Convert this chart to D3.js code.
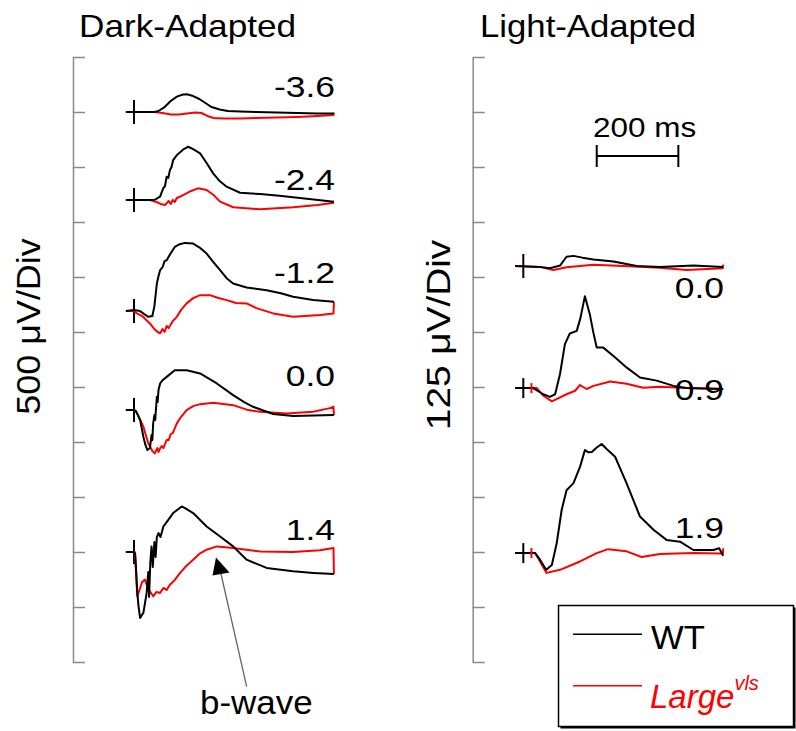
<!DOCTYPE html>
<html><head><meta charset="utf-8">
<script src="https://cdn.jsdelivr.net/npm/d3@7"></script>
<style>body{margin:0;background:#fff}svg{display:block}text{font-family:"Liberation Sans",Arial,Helvetica,sans-serif}</style>
</head><body>
<script>
// ---- data: [time ms, amplitude µV] ----
const daIntensities = ["-3.6", "-2.4", "-1.2", "0.0", "1.4"];
const laIntensities = ["0.0", "0.9", "1.9"];
const seriesNames = ["WT", "Large"];

const daWT1 = [[-20,0],[50,0],[60,9],[75,45],[90,100],[105,140],[120,159],[130,161],[145,145],[160,118],[175,82],[190,45],[210,23],[230,9],[260,5],[300,0],[350,-5],[400,-9],[450,-14],[490,-14]];
const daLV1 = [[-20,0],[50,0],[70,-9],[90,-23],[110,-23],[130,-14],[150,-5],[165,-9],[180,-36],[195,-54],[220,-59],[260,-59],[300,-54],[350,-50],[400,-45],[450,-36],[489,-27],[490,-5]];
const daWT2 = [[-20,0],[50,0],[64,30],[68,72],[72,109],[76,127],[80,211],[84,200],[88,272],[92,300],[96,363],[105,408],[113,435],[122,463],[133,484],[145,463],[162,424],[178,336],[194,242],[210,172],[227,121],[260,66],[309,54],[350,41],[390,24],[440,5],[490,-15]];
const daLV2 = [[-20,0],[39,0],[55,-18],[65,-36],[76,-45],[85,-9],[90,-36],[95,0],[100,-18],[105,18],[113,30],[125,54],[140,82],[157,106],[178,91],[195,45],[211,-15],[243,-66],[309,-84],[390,-66],[450,-45],[490,-24]];
const daWT3 = [[-20,0],[0,9],[15,0],[25,-27],[35,-52],[45,-45],[50,45],[56,251],[60,317],[64,372],[70,399],[75,454],[80,463],[90,526],[100,583],[112,608],[125,620],[145,614],[160,580],[178,523],[195,444],[211,372],[227,299],[243,251],[276,215],[325,190],[360,163],[390,130],[439,100],[490,84]];
const daLV3 = [[-20,0],[0,0],[6,-18],[20,-45],[39,-112],[50,-163],[58,-190],[64,-202],[70,-163],[75,-190],[80,-136],[85,-154],[95,-91],[105,-52],[115,9],[129,70],[145,118],[162,145],[186,145],[205,122],[227,100],[250,73],[276,70],[300,27],[341,-21],[390,-52],[456,-36],[489,-21],[490,84]];
const daWT4 = [[-20,0],[0,0],[5,-9],[15,-91],[23,-242],[28,-317],[33,-363],[39,-345],[43,-227],[45,-272],[47,-121],[50,-45],[52,-91],[56,121],[58,73],[60,181],[64,242],[70,272],[80,302],[100,363],[129,363],[162,333],[203,242],[243,136],[270,73],[292,30],[341,-36],[390,-54],[440,-50],[490,-45]];
const daLV4 = [[-20,0],[2,0],[10,-45],[23,-151],[35,-302],[45,-372],[51,-393],[57,-345],[60,-381],[64,-347],[68,-327],[72,-345],[80,-272],[85,-272],[90,-218],[95,-209],[105,-121],[115,-63],[129,0],[145,36],[162,54],[194,66],[243,45],[280,0],[309,-15],[374,-30],[439,-15],[480,18],[489,30],[490,-45]];
const daWT5 = [[-20,0],[0,0],[3,-18],[8,-363],[11,-492],[15,-599],[23,-553],[31,-372],[35,-181],[37,-408],[40,-91],[43,51],[46,-136],[50,91],[53,-45],[56,136],[60,172],[65,136],[72,232],[80,272],[96,354],[117,414],[125,399],[145,354],[178,232],[211,141],[243,51],[276,-70],[325,-145],[390,-176],[440,-190],[490,-200]];
const daLV5 = [[-20,0],[2,0],[5,-181],[8,-403],[15,-327],[20,-272],[27,-251],[33,-317],[40,-363],[47,-403],[55,-363],[64,-372],[72,-327],[80,-345],[88,-297],[95,-272],[100,-254],[113,-190],[128,-127],[145,-70],[160,-18],[178,21],[203,51],[243,36],[309,5],[390,0],[456,15],[489,36],[490,-200]];

const laWT1 = [[-20,0],[40,-2],[65,-5],[90,1],[106,21],[123,23],[145,19],[172,15],[221,10],[278,0],[335,-2],[417,1],[490,-2]];
const laLV1 = [[-20,0],[40,-2],[74,-9],[106,-3],[172,3],[245,0],[335,-4],[400,-9],[489,-5],[490,3]];
const laWT2 = [[-20,0],[24,0],[49,-14],[65,-20],[78,-14],[90,32],[102,100],[114,124],[131,130],[140,159],[151,209],[163,168],[172,125],[180,92],[196,92],[221,73],[253,47],[286,24],[327,17],[368,5],[400,0],[490,-2]];
const laLV2 = [[-20,0],[33,0],[50,-18],[70,-30],[106,-14],[127,-6],[139,7],[155,-2],[172,5],[213,15],[253,10],[294,1],[335,3],[400,0],[490,-2]];
const laWT3 = [[-20,0],[29,0],[41,-15],[56,-38],[70,-27],[82,23],[94,98],[106,143],[123,159],[139,196],[151,234],[160,229],[168,230],[180,240],[192,248],[205,236],[225,219],[253,159],[286,83],[319,53],[351,30],[384,26],[417,7],[466,7],[480,11],[490,-6]];
const laLV3 = [[-20,0],[29,0],[57,-45],[90,-38],[139,-19],[180,0],[208,9],[253,4],[290,-9],[335,-2],[417,0],[482,-1],[489,-1],[490,11]];

const scaleBarMs = 200;
const scaleBarLabel = "200 ms";
const daDivLabel = "500 μV/Div";
const laDivLabel = "125 μV/Div";
const daUVperDiv = 500, laUVperDiv = 125;
const axisDivs = 11;

// ---- layout ----
const W = 796, H = 731;
const svg = d3.select("body").append("svg").attr("width", W).attr("height", H);
const font = '"Liberation Sans",Arial,Helvetica,sans-serif';

const yDiv = d3.scaleLinear().domain([0, axisDivs]).range([662, 57]);
const xDA = d3.scaleLinear().domain([0, 200]).range([134, 215.6]);
const xLA = d3.scaleLinear().domain([0, 200]).range([523.3, 604.9]);

const daTraces = [[daWT1, daLV1], [daWT2, daLV2], [daWT3, daLV3], [daWT4, daLV4], [daWT5, daLV5]];
const laTraces = [[laWT1, laLV1], [laWT2, laLV2], [laWT3, laLV3]];
const daOffsets = [10.0, 8.4, 6.38, 4.58, 2.0];
const laOffsets = [7.2, 4.98, 1.98];
const daLabelPos = [[335, 96.7], [335, 190], [335, 283.3], [335, 385.7], [335, 540]];
const laLabelPos = [[724, 298.3], [724, 400], [724, 538.3]];
const colors = ["#000000", "#ff0000"];

function addText(x, y, str, size, sx, anchor, opts) {
  opts = opts || {};
  const g = svg.append("g").attr("transform", `translate(${x},${y})` + (opts.rotate ? ` rotate(${opts.rotate})` : "") + ` scale(${sx},1)`);
  const t = g.append("text").attr("x", 0).attr("y", 0)
    .attr("text-anchor", anchor).attr("font-size", size).attr("fill", opts.fill || "#000")
    .style("font-family", font);
  if (opts.italic) t.attr("font-style", "italic");
  t.text(str);
  return t;
}

// axes
function drawAxis(x) {
  const ax = d3.axisRight(yDiv).tickValues(d3.range(axisDivs + 1)).tickFormat("").tickSize(12).tickSizeOuter(0);
  const g = svg.append("g").attr("transform", `translate(${x},0)`).call(ax);
  g.selectAll("path,line").attr("stroke", "#8a8a8a").attr("stroke-width", 1.5);
}
drawAxis(73);
drawAxis(472.7);

function drawTraces(traces, offsets, xs, uvPerDiv, markers) {
  traces.forEach((pair, i) => {
    const off = offsets[i];
    const line = d3.line().x(d => xs(d[0])).y(d => yDiv(off + d[1] / uvPerDiv)).curve(d3.curveLinear);
    // stimulus marker
    const y0 = yDiv(off);
    const mh = markers[i];
    svg.append("line").attr("x1", xs(0)).attr("x2", xs(0)).attr("y1", y0 - mh).attr("y2", y0 + mh)
      .attr("stroke", "#000").attr("stroke-width", 2);
    [1, 0].forEach(k => {
      svg.append("path").datum(pair[k]).attr("d", line).attr("fill", "none")
        .attr("stroke", colors[k]).attr("stroke-width", 2).attr("stroke-linejoin", "round");
    });
  });
}
drawTraces(daTraces, daOffsets, xDA, daUVperDiv, [12, 12, 12, 12, 12]);
drawTraces(laTraces, laOffsets, xLA, laUVperDiv, [12, 10, 10]);
// small red stimulus marks on LA traces
[1, 2].forEach(i => {
  const y0 = yDiv(laOffsets[i]);
  svg.append("line").attr("x1", xLA(20)).attr("x2", xLA(20)).attr("y1", y0 - 5).attr("y2", y0 + 5)
    .attr("stroke", "#ff0000").attr("stroke-width", 2);
});

// intensity labels
daIntensities.forEach((s, i) => addText(daLabelPos[i][0], daLabelPos[i][1], s, 30, 1.18, "end"));
laIntensities.forEach((s, i) => addText(laLabelPos[i][0], laLabelPos[i][1], s, 30, 1.18, "end"));

// titles
addText(79, 36.7, "Dark-Adapted", 31, 1.136, "start");
addText(480, 36.7, "Light-Adapted", 31, 1.12, "start");

// y labels
addText(40, 326.5, daDivLabel, 33, 1.09, "middle", { rotate: -90 });
addText(450, 335, laDivLabel, 34, 1.14, "middle", { rotate: -90 });

// scale bar
const sbY = 156;
const sbX0 = xLA(180), sbX1 = xLA(180 + scaleBarMs);
svg.append("line").attr("x1", sbX0).attr("x2", sbX1).attr("y1", sbY).attr("y2", sbY).attr("stroke", "#000").attr("stroke-width", 2);
[sbX0, sbX1].forEach(x => svg.append("line").attr("x1", x).attr("x2", x).attr("y1", sbY - 11).attr("y2", sbY + 11).attr("stroke", "#000").attr("stroke-width", 2));
addText((sbX0 + sbX1) / 2 + 7, 136.7, scaleBarLabel, 28, 1.125, "middle");

// b-wave annotation
svg.append("line").attr("x1", 246.7).attr("y1", 686.7).attr("x2", 221).attr("y2", 574).attr("stroke", "#666").attr("stroke-width", 1.3);
svg.append("path").attr("d", "M216,557.5 L212.5,575.5 L229.5,572.5 Z").attr("fill", "#000");
addText(200, 714, "b-wave", 33, 1.06, "start");

// legend
svg.append("rect").attr("x", 560.5).attr("y", 607.5).attr("width", 235).attr("height", 121).attr("fill", "#000");
svg.append("rect").attr("x", 558.5).attr("y", 605.5).attr("width", 235).attr("height", 121).attr("fill", "#fff").attr("stroke", "#000").attr("stroke-width", 1.5);
svg.append("line").attr("x1", 573).attr("x2", 642).attr("y1", 634.3).attr("y2", 634.3).attr("stroke", "#000").attr("stroke-width", 1.5);
svg.append("line").attr("x1", 573).attr("x2", 642).attr("y1", 685.7).attr("y2", 685.7).attr("stroke", "#ff0000").attr("stroke-width", 1.5);
addText(651, 649.3, seriesNames[0], 33, 1.05, "start");
const lg = addText(650, 708.3, seriesNames[1], 33, 1.0, "start", { fill: "#ff0000", italic: true });
lg.append("tspan").attr("font-size", 20).attr("dy", -18).text("vls");
</script>
</body></html>
